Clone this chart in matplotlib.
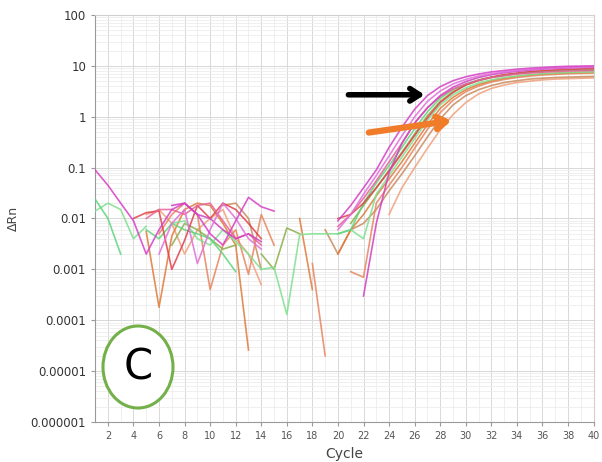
import numpy as np
import matplotlib
matplotlib.use("Agg")
import matplotlib.pyplot as plt
from matplotlib.patches import Ellipse

nan = np.nan
cycles = list(range(1, 41))

# Each series: 40 values (cycles 1..40); nan = not shown (negative / missing)
magenta_a = [0.09, 0.045, 0.02, 0.009, 0.002, 0.006, 0.015, 0.02, 0.012, 0.005,
             0.003, 0.009, 0.026, 0.017, 0.014, nan, nan, nan, nan,
             0.009, 0.018, 0.04, 0.09, 0.25, 0.62, 1.4, 2.6, 3.9, 5.1, 6.1,
             6.9, 7.6, 8.1, 8.6, 9.0, 9.3, 9.6, 9.8, 9.9, 10.0]
magenta_b = [nan, nan, nan, nan, nan, 0.002, 0.008, 0.015, 0.0013, 0.006,
             0.02, 0.01, 0.004, 0.0025, nan, nan, nan, nan, nan,
             0.006, 0.012, 0.03, 0.07, 0.17, 0.42, 1.0, 2.0, 3.2, 4.4, 5.4,
             6.3, 7.0, 7.6, 8.1, 8.5, 8.8, 9.1, 9.3, 9.4, 9.5]
magenta_c = [nan, nan, nan, nan, nan, nan, 0.018, 0.02, 0.012, 0.01,
             0.006, 0.004, 0.005, 0.0035, nan, nan, nan, nan, nan,
             nan, nan, 0.0003, 0.008, 0.08, 0.3, 0.75, 1.5, 2.6, 3.8, 4.9,
             5.9, 6.7, 7.3, 7.8, 8.2, 8.6, 8.9, 9.1, 9.3, 9.4]
pink = [nan, nan, nan, nan, 0.01, 0.015, 0.015, 0.012, 0.018, 0.02,
        0.009, 0.004, 0.005, 0.003, nan, nan, nan, nan, nan,
        0.007, 0.012, 0.025, 0.055, 0.13, 0.3, 0.75, 1.5, 2.5, 3.5, 4.4,
        5.2, 5.9, 6.4, 6.9, 7.2, 7.5, 7.7, 7.9, 8.0, 8.1]
green_a = [0.024, 0.01, 0.002, nan, 0.006, 0.004, 0.008, 0.006, 0.005, 0.004,
           0.002, 0.0009, nan, nan, nan, nan, nan, nan, nan,
           0.005, 0.006, 0.02, 0.05, 0.11, 0.25, 0.58, 1.25, 2.3, 3.4, 4.4,
           5.3, 6.0, 6.6, 7.1, 7.5, 7.8, 8.1, 8.3, 8.4, 8.5]
green_b = [0.014, 0.02, 0.015, 0.004, 0.007, nan, 0.008, 0.009, 0.004, 0.003,
           0.006, 0.0035, 0.002, 0.001, 0.0011, 0.00013, 0.0048, 0.005, 0.005,
           0.005, 0.006, 0.004, 0.03, 0.07, 0.16, 0.37, 0.85, 1.7, 2.7, 3.7,
           4.6, 5.3, 5.9, 6.3, 6.7, 7.0, 7.2, 7.4, 7.5, 7.6]
olive = [nan, nan, nan, nan, nan, nan, 0.003, 0.008, 0.006, 0.004,
         0.0025, 0.003, nan, 0.002, 0.001, 0.0065, 0.005, nan, nan,
         nan, 0.008, 0.018, 0.04, 0.09, 0.2, 0.46, 1.05, 2.0, 3.1, 4.2,
         5.1, 5.9, 6.5, 7.0, 7.4, 7.7, 7.9, 8.1, 8.2, 8.3]
red = [nan, nan, nan, 0.01, 0.013, 0.014, 0.001, 0.0037, 0.018, 0.01,
       0.02, 0.015, 0.008, 0.004, nan, nan, nan, nan, nan,
       0.01, 0.012, 0.02, 0.04, 0.085, 0.19, 0.43, 0.95, 1.9, 3.0, 4.2,
       5.2, 6.0, 6.7, 7.2, 7.7, 8.0, 8.3, 8.5, 8.7, 8.8]
orange = [nan, nan, nan, nan, 0.0055, 0.00018, 0.0045, 0.015, 0.02, 0.018,
          0.008, 0.003, 2.6e-5, nan, nan, nan, 0.01, 0.0004, nan,
          0.002, 0.006, 0.012, 0.028, 0.06, 0.13, 0.3, 0.7, 1.45, 2.4, 3.4,
          4.3, 5.1, 5.7, 6.2, 6.6, 6.9, 7.1, 7.3, 7.4, 7.5]
salmon = [nan, nan, nan, nan, nan, 0.005, 0.012, 0.02, 0.012, 0.0004,
          0.003, 0.006, 0.0008, 0.012, 0.003, nan, nan, 0.0013, 2e-5,
          nan, 0.0009, 0.0007, 0.02, 0.045, 0.1, 0.24, 0.56, 1.2, 2.1, 3.1,
          4.0, 4.8, 5.4, 5.9, 6.3, 6.6, 6.8, 7.0, 7.1, 7.2]
brown = [nan, nan, nan, nan, nan, nan, nan, nan, nan, nan,
         0.018, 0.02, 0.01, 0.001, nan, nan, nan, nan, 0.006,
         0.002, 0.006, 0.008, 0.015, 0.035, 0.075, 0.17, 0.4, 0.9, 1.7, 2.6,
         3.4, 4.1, 4.7, 5.1, 5.5, 5.7, 5.9, 6.0, 6.1, 6.2]
peach = [nan, nan, nan, nan, 0.012, 0.015, 0.008, 0.002, 0.006, 0.01,
         0.015, 0.004, 0.002, 0.0005, nan, nan, nan, nan, nan,
         nan, nan, nan, nan, 0.012, 0.04, 0.1, 0.24, 0.55, 1.1, 1.9,
         2.8, 3.6, 4.2, 4.7, 5.0, 5.3, 5.5, 5.6, 5.7, 5.8]

series = [
    (peach, "#f0a07a"), (brown, "#c98a5e"), (salmon, "#e8845f"),
    (orange, "#e07a3a"), (olive, "#8cae4a"), (green_b, "#7fe08f"),
    (green_a, "#5fd47a"), (red, "#e0404a"), (pink, "#e8609a"),
    (magenta_c, "#d040c0"), (magenta_b, "#e070d8"), (magenta_a, "#d63fc6"),
]

y_ticks = [100, 10, 1, 0.1, 0.01, 0.001, 0.0001, 0.00001, 0.000001]
y_tick_labels = ["100", "10", "1", "0.1", "0.01", "0.001", "0.0001", "0.00001", "0.000001"]
x_ticks = list(range(2, 41, 2))

fig = plt.figure(figsize=(6.02, 4.62), dpi=100)
ax = fig.add_axes([0.158, 0.0866, 0.828, 0.881])

for vals, col in series:
    ax.plot(cycles, vals, color=col, lw=1.2, alpha=0.85, zorder=3)

ax.set_yscale("log")
ax.set_xlim(1, 40)
ax.set_ylim(1e-6, 100)
ax.set_yticks(y_ticks)
ax.set_yticklabels(y_tick_labels, fontsize=8.5, color="#333333")
ax.set_xticks(x_ticks)
ax.set_xticklabels([str(t) for t in x_ticks], fontsize=7, color="#555555")
ax.set_xticks(range(1, 41), minor=True)
ax.tick_params(axis="both", which="major", length=3, color="#999999")
ax.tick_params(axis="x", which="minor", length=0)
ax.tick_params(axis="y", which="minor", length=0, labelleft=False)
ax.grid(True, which="major", color="#d8d8d8", lw=0.7, zorder=0)
ax.grid(True, which="minor", color="#ececec", lw=0.6, zorder=0)
for s in ["left", "bottom"]:
    ax.spines[s].set_color("#9a9a9a")
for s in ["top", "right"]:
    ax.spines[s].set_color("#d0d0d0")

ax.set_xlabel("Cycle", fontsize=10, color="#444444", labelpad=4)
ax.set_ylabel("ΔRn", fontsize=9, color="#444444", labelpad=8)

# arrows
ax.annotate("", xy=(27.0, 2.7), xytext=(20.6, 2.7),
            arrowprops=dict(arrowstyle="->,head_length=0.7,head_width=0.45",
                            color="black", lw=4), zorder=5)
ax.annotate("", xy=(29.1, 0.85), xytext=(22.2, 0.48),
            arrowprops=dict(arrowstyle="->,head_length=0.7,head_width=0.45",
                            color="#f07c2a", lw=4.5), zorder=5)

# circled C
ell = Ellipse((138 / 602, 1 - 367 / 462), 70 / 602, 82 / 462,
              transform=fig.transFigure, facecolor="white",
              edgecolor="#74b04a", lw=2.2, zorder=6)
fig.patches.append(ell)
fig.text(138 / 602, 1 - 368 / 462, "C", fontsize=30, ha="center", va="center",
         color="black", zorder=7)

fig.savefig("out.png", dpi=100)
